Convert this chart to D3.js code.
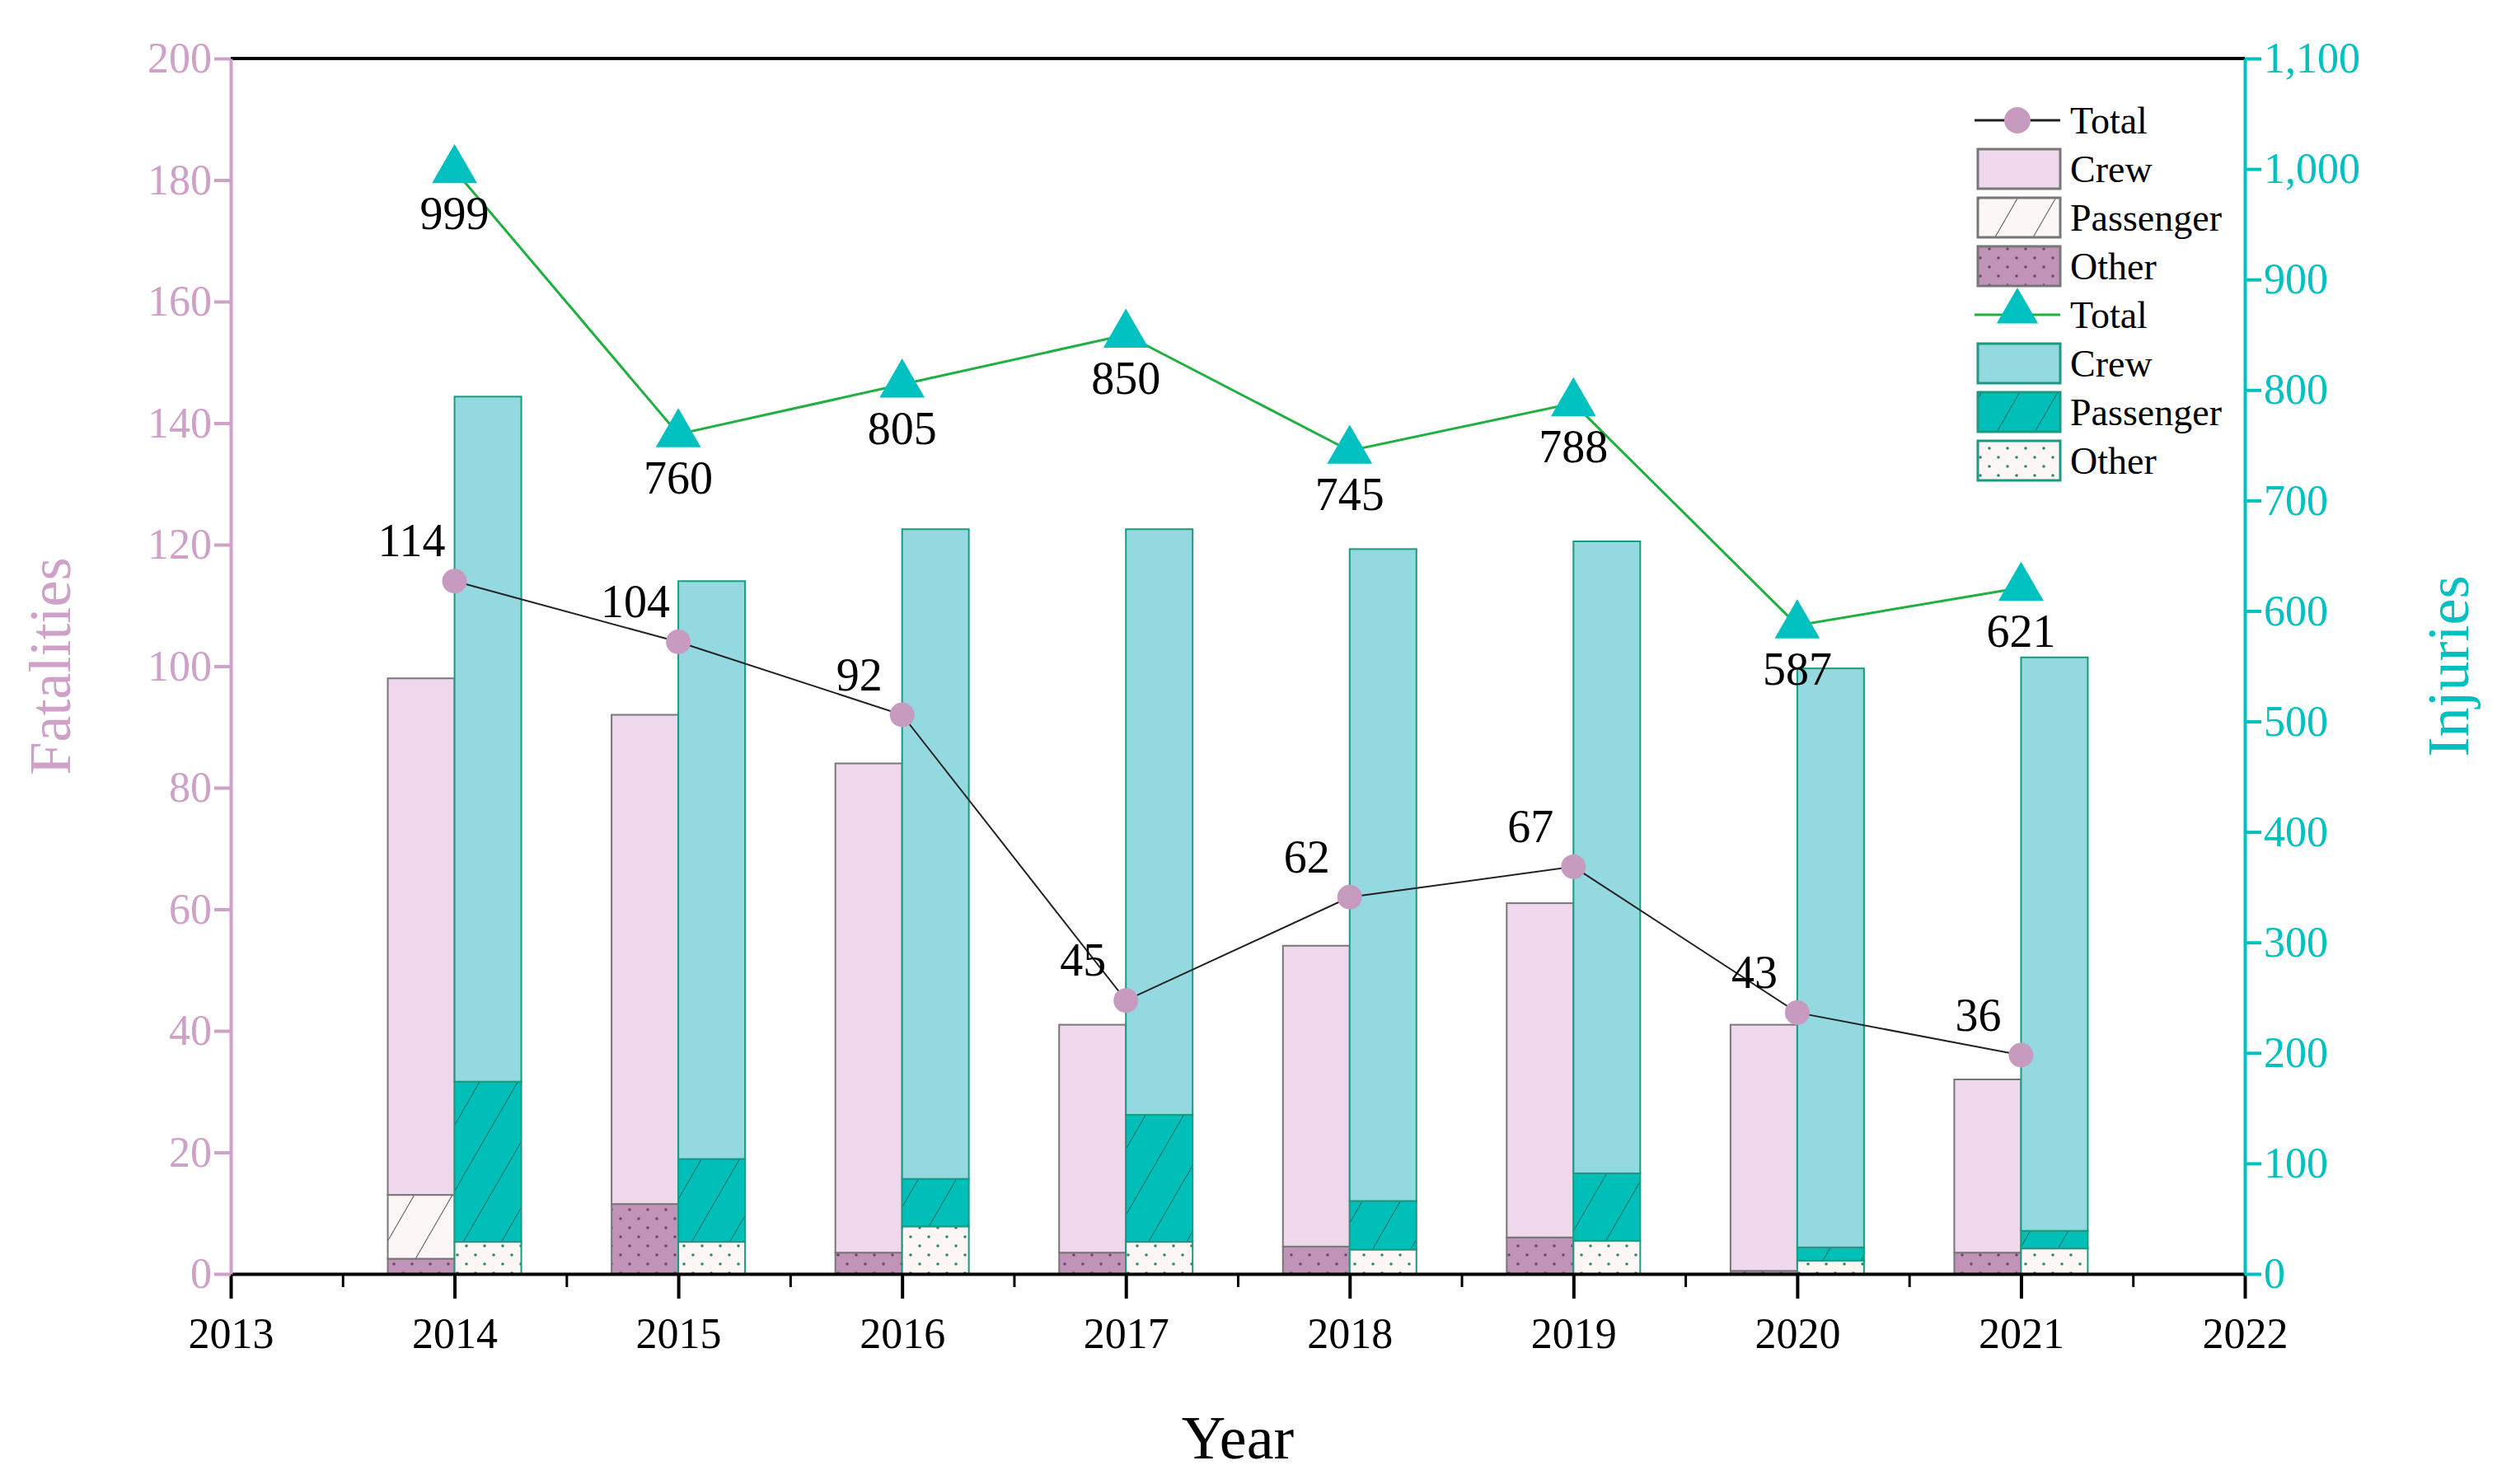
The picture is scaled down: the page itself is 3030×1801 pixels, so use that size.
<!DOCTYPE html>
<html><head><meta charset="utf-8">
<script src="https://cdn.jsdelivr.net/npm/d3@7/dist/d3.min.js"></script>
<style>body{margin:0;background:#fff}text{font-family:"Liberation Serif","Times New Roman",serif}</style>
</head><body><svg width="3030" height="1801"></svg>
<script>
var years = [2014, 2015, 2016, 2017, 2018, 2019, 2020, 2021];
var fatalTotal = [114, 104, 92, 45, 62, 67, 43, 36];
var fatalCrew = [85, 80.5, 80.5, 37.5, 49.5, 55, 40.5, 28.5];
var fatalPassenger = [10.5, 0, 0, 0, 0, 0, 0, 0];
var fatalOther = [2.5, 11.5, 3.5, 3.5, 4.5, 6, 0.5, 3.5];
var injTotal = [999, 760, 805, 850, 745, 788, 587, 621];
var injCrew = [620, 523, 588, 530, 590, 572, 524, 519];
var injPassenger = [145, 75, 43, 115, 44, 61, 12, 16];
var injOther = [29, 29, 43, 29, 22, 30, 12, 23];
var xTicks = [2013, 2014, 2015, 2016, 2017, 2018, 2019, 2020, 2021, 2022];

var pink = "#cfa0c8", teal = "#00c0c0";
var svg = d3.select("svg");
var L = 280, R = 2724, T = 71, B = 1546;

var x = d3.scaleLinear().domain([2013, 2022]).range([L, R]);
var yL = d3.scaleLinear().domain([0, 200]).range([B, T]);
var yR = d3.scaleLinear().domain([0, 1100]).range([B, T]);
var bw = 81;

// patterns
var defs = svg.append("defs");
function hatch(id, bg, stroke) {
	var p = defs.append("pattern").attr("id", id).attr("patternUnits", "userSpaceOnUse")
		.attr("width", 40).attr("height", 40).attr("patternTransform", "rotate(30)");
	p.append("rect").attr("width", 40).attr("height", 40).attr("fill", bg);
	p.append("line").attr("x1", 0).attr("y1", 0).attr("x2", 0).attr("y2", 40)
		.attr("stroke", stroke).attr("stroke-width", 2);
}
function dots(id, bg, dot) {
	var p = defs.append("pattern").attr("id", id).attr("patternUnits", "userSpaceOnUse")
		.attr("width", 22).attr("height", 22);
	p.append("rect").attr("width", 22).attr("height", 22).attr("fill", bg);
	p.append("circle").attr("cx", 5).attr("cy", 5).attr("r", 1.8).attr("fill", dot);
	p.append("circle").attr("cx", 16).attr("cy", 16).attr("r", 1.8).attr("fill", dot);
}
hatch("fPass", "#fdf6f6", "#555");
dots("fOther", "#c293b8", "#6a4a64");
hatch("iPass", "#00bfb8", "#0b6b60");
dots("iOther", "#fdf6f4", "#2a8a70");

// stacked bars
function stack(vals, yS, dx, fills, stroke) {
	years.forEach(function(yr, i) {
		var base = 0;
		vals.forEach(function(arr, k) {
			var v = arr[i];
			if (v > 0) {
				svg.append("rect").attr("x", x(yr) + dx).attr("width", bw)
					.attr("y", yS(base + v)).attr("height", yS(base) - yS(base + v))
					.attr("fill", fills[k]).attr("stroke", stroke).attr("stroke-width", 2);
			}
			base += v;
		});
	});
}
stack([fatalOther, fatalPassenger, fatalCrew], yL, -bw, ["url(#fOther)", "url(#fPass)", "#f0d8ec"], "#777");
stack([injOther, injPassenger, injCrew], yR, 0, ["url(#iOther)", "url(#iPass)", "#94d8e0"], "#1a9a80");

// axes
var fs = 52;
var xa = svg.append("g").attr("transform", "translate(0," + B + ")")
	.call(d3.axisBottom(x).tickValues(xTicks).tickFormat(d3.format("d")).tickSize(30).tickSizeOuter(0));
xa.selectAll("text").attr("font-size", fs).attr("fill", "#000").attr("dy", "1.1em");
xa.selectAll("line,path").attr("stroke", "#000").attr("stroke-width", 4);
svg.append("g").attr("transform", "translate(0," + B + ")")
	.call(d3.axisBottom(x).tickValues(d3.range(2013.5, 2022, 1)).tickFormat("").tickSize(16))
	.selectAll("line,path").attr("stroke", "#000").attr("stroke-width", 3);
svg.append("line").attr("x1", L).attr("x2", R).attr("y1", T).attr("y2", T).attr("stroke", "#000").attr("stroke-width", 4);

var ya = svg.append("g").attr("transform", "translate(" + L + ",0)")
	.call(d3.axisLeft(yL).ticks(10).tickSize(20).tickSizeOuter(0));
ya.selectAll("text").attr("font-size", fs).attr("fill", pink);
ya.selectAll("line,path").attr("stroke", pink).attr("stroke-width", 4);

var yb = svg.append("g").attr("transform", "translate(" + R + ",0)")
	.call(d3.axisRight(yR).ticks(11).tickSize(20).tickSizeOuter(0));
yb.selectAll("text").attr("font-size", fs).attr("fill", teal);
yb.selectAll("line,path").attr("stroke", teal).attr("stroke-width", 4);

svg.append("text").attr("transform", "translate(85," + (T + B) / 2 + ") rotate(-90)")
	.attr("text-anchor", "middle").attr("font-size", 72).attr("fill", pink).text("Fatalities");
svg.append("text").attr("transform", "translate(2995," + (T + B) / 2 + ") rotate(-90)")
	.attr("text-anchor", "middle").attr("font-size", 72).attr("fill", teal).text("Injuries");
svg.append("text").attr("x", x(2017.5)).attr("y", 1770).attr("text-anchor", "middle")
	.attr("font-size", 74).text("Year");

// lines
var lf = d3.line().x(function(d, i) { return x(years[i]); }).y(function(d) { return yL(d); });
svg.append("path").attr("d", lf(fatalTotal)).attr("fill", "none").attr("stroke", "#222").attr("stroke-width", 2);
var li = d3.line().x(function(d, i) { return x(years[i]); }).y(function(d) { return yR(d); });
svg.append("path").attr("d", li(injTotal)).attr("fill", "none").attr("stroke", "#1fb040").attr("stroke-width", 3);

var tri = d3.symbol().type(d3.symbolTriangle).size(1300);
years.forEach(function(yr, i) {
	svg.append("circle").attr("cx", x(yr)).attr("cy", yL(fatalTotal[i])).attr("r", 15).attr("fill", "#c79bc0");
	svg.append("path").attr("d", tri).attr("transform", "translate(" + x(yr) + "," + yR(injTotal[i]) + ")").attr("fill", teal);
	svg.append("text").attr("x", x(yr) - 52).attr("y", yL(fatalTotal[i]) - 30).attr("text-anchor", "middle")
		.attr("font-size", 56).text(fatalTotal[i]);
	svg.append("text").attr("x", x(yr)).attr("y", yR(injTotal[i]) + 72).attr("text-anchor", "middle")
		.attr("font-size", 56).text(injTotal[i]);
});

// legend
var lg = [
	{t: "Total", kind: "circ"}, {t: "Crew", fill: "#f0d8ec", s: "#777"},
	{t: "Passenger", fill: "url(#fPass)", s: "#777"}, {t: "Other", fill: "url(#fOther)", s: "#777"},
	{t: "Total", kind: "tri"}, {t: "Crew", fill: "#94d8e0", s: "#1a9a80"},
	{t: "Passenger", fill: "url(#iPass)", s: "#1a9a80"}, {t: "Other", fill: "url(#iOther)", s: "#1a9a80"}
];
lg.forEach(function(d, i) {
	var yy = 146 + i * 59, x0 = 2396;
	if (d.kind == "circ" || d.kind == "tri") {
		svg.append("line").attr("x1", x0).attr("x2", x0 + 104).attr("y1", yy).attr("y2", yy)
			.attr("stroke", d.kind == "circ" ? "#222" : "#1fb040").attr("stroke-width", 3);
		if (d.kind == "circ") svg.append("circle").attr("cx", x0 + 52).attr("cy", yy).attr("r", 16).attr("fill", "#c79bc0");
		else svg.append("path").attr("d", d3.symbol().type(d3.symbolTriangle).size(1100)).attr("transform", "translate(" + (x0 + 52) + "," + (yy - 4) + ")").attr("fill", teal);
	} else {
		svg.append("rect").attr("x", x0 + 4).attr("y", yy - 24).attr("width", 100).attr("height", 48)
			.attr("fill", d.fill).attr("stroke", d.s).attr("stroke-width", 3);
	}
	svg.append("text").attr("x", 2512).attr("y", yy + 16).attr("font-size", 46).text(d.t);
});
</script></body></html>
